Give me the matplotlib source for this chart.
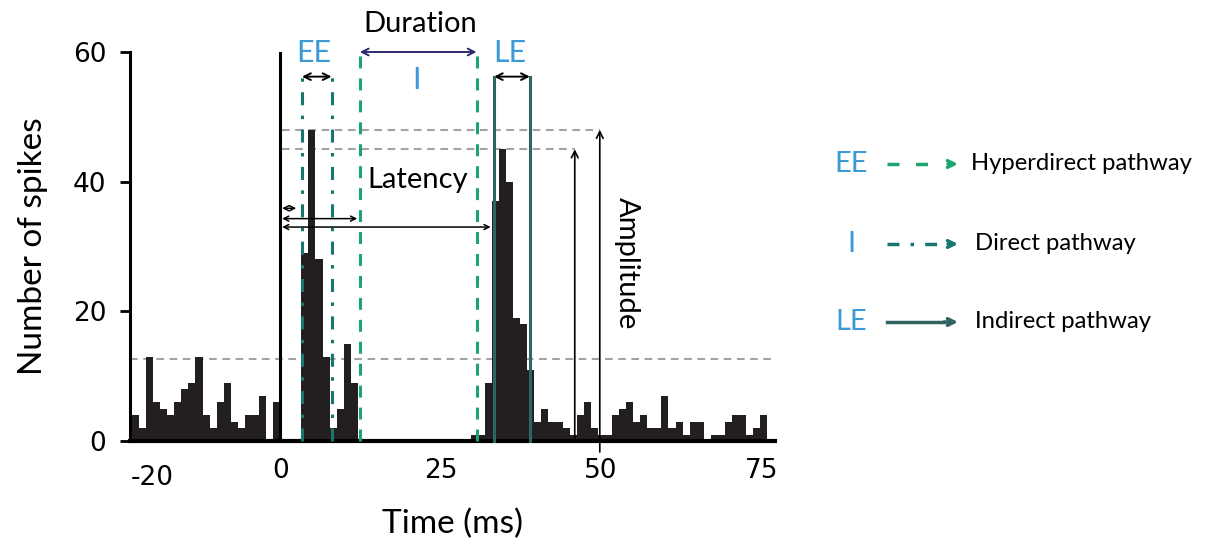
import numpy as np
import matplotlib
matplotlib.use('Agg')
import matplotlib.pyplot as plt

plt.rcParams['lines.scale_dashes'] = False
plt.rcParams['axes.unicode_minus'] = False
TXT = ['Lato', 'DejaVu Sans']

# peri-stimulus histogram, counts per 1.1 ms bin
bin_start = -23.1
bin_width = 1.1
pre_counts = [4, 2, 13, 6, 5, 4, 6, 8, 9, 13, 4, 2, 6, 9, 3, 2, 4, 4, 7, 0, 6]
post_counts = ([0, 0, 0, 29, 48, 28, 13, 2, 5, 15, 9] + [0] * 16 +
               [1, 1, 9, 37, 45, 40, 19, 18, 11, 3, 5, 3, 3, 2, 1, 4, 6, 2, 1, 1,
                4, 5, 6, 3, 4, 2, 2, 7, 2, 3, 1, 3, 3, 0, 1, 1, 3, 4, 4, 1, 2, 4])
counts = pre_counts + post_counts
edges = bin_start + bin_width * np.arange(len(counts))

# markers (ms)
ee_bounds = [3.4, 8.0]
dur_bounds = [12.4, 30.6]
le_bounds = [33.3, 38.9]
latency_ends = [2.5, 12.0, 32.8]
latency_y = [35.9, 34.3, 33.0]
peak_levels = [48, 45]
amp_x = [49.8, 45.9]
threshold = 12.7

xticks = [-20, 0, 25, 50, 75]
yticks = [0, 20, 40, 60]

BLUE = '#3d9ad8'
GREEN = '#1aa56f'
TEAL = '#17776f'
SLATE = '#2f6461'
NAVY = '#2d2b6c'
GRAY = '#a3a3a3'
BAR = '#231f20'

fig = plt.figure(figsize=(12.06, 5.39), dpi=100)
ax = fig.add_axes([130 / 1206, 98 / 539, 645 / 1206, 389 / 539])

ax.bar(edges, counts, width=bin_width, align='edge', color=BAR, linewidth=0, zorder=2)
ax.axvline(0, color='black', lw=2.2, zorder=3)

# grey reference lines
ax.plot([-23.4, 77.1], [threshold] * 2, color=GRAY, lw=1.5, ls=(0, (5.5, 4)), zorder=1)
ax.plot([0.3, amp_x[0]], [peak_levels[0]] * 2, color=GRAY, lw=1.5, ls=(0, (5.5, 4)), zorder=1)
ax.plot([0.3, amp_x[1]], [peak_levels[1]] * 2, color=GRAY, lw=1.5, ls=(0, (5.5, 4)), zorder=1)

# window boundaries
for x in ee_bounds:
    ax.plot([x, x], [0, 56.2], color=TEAL, lw=2.2, ls=(0, (9.4, 7.5, 2.5, 7.5)), zorder=4, clip_on=False)
for x in dur_bounds:
    ax.plot([x, x], [0, 60], color=GREEN, lw=2.2, ls=(0, (8.6, 7.2)), zorder=4, clip_on=False)
for x in le_bounds:
    ax.plot([x, x], [0, 56.2], color=SLATE, lw=2.2, zorder=4, clip_on=False)

arr = dict(arrowstyle='<->', color='black', lw=1.4, mutation_scale=12, shrinkA=0, shrinkB=0)
ax.annotate('', xy=(ee_bounds[1], 56.2), xytext=(ee_bounds[0], 56.2), arrowprops=arr, annotation_clip=False)
ax.annotate('', xy=(le_bounds[1], 56.2), xytext=(le_bounds[0], 56.2), arrowprops=arr, annotation_clip=False)
ax.annotate('', xy=(dur_bounds[1], 60), xytext=(dur_bounds[0], 60),
            arrowprops=dict(arr, color=NAVY), annotation_clip=False)

for xe, ye in zip(latency_ends, latency_y):
    ax.annotate('', xy=(xe, ye), xytext=(0.3, ye),
                arrowprops=dict(arr, lw=1.1, mutation_scale=9), zorder=5)

# amplitude arrows
ax.annotate('', xy=(amp_x[0], peak_levels[0]), xytext=(amp_x[0], -1.7),
            arrowprops=dict(arrowstyle='->', color='black', lw=1.2, mutation_scale=12, shrinkA=0, shrinkB=0),
            annotation_clip=False)
ax.annotate('', xy=(amp_x[1], peak_levels[1]), xytext=(amp_x[1], 0),
            arrowprops=dict(arrowstyle='->', color='black', lw=1.2, mutation_scale=12, shrinkA=0, shrinkB=0))

# labels inside the plot
ax.text(5.3, 59.9, 'EE', color=BLUE, fontsize=22, family=TXT, ha='center', va='center', clip_on=False)
ax.text(35.8, 59.9, 'LE', color=BLUE, fontsize=22, family=TXT, ha='center', va='center', clip_on=False)
ax.text(21.3, 55.7, 'I', color=BLUE, fontsize=22, family=TXT, ha='center', va='center')
ax.text(21.8, 64.3, 'Duration', fontsize=21, family=TXT, ha='center', va='center', clip_on=False)
ax.text(21.5, 40.3, 'Latency', fontsize=21, family=TXT, ha='center', va='center')
ax.text(54.0, 27.5, 'Amplitude', fontsize=21, family=TXT, ha='center', va='center', rotation=-90)

ax.set_xlim(-23.4, 77.1)
ax.set_ylim(0, 60)
ax.set_xticks(xticks)
ax.set_yticks(yticks)
ax.tick_params(axis='x', length=0, pad=12, labelsize=19)
ax.tick_params(axis='y', length=7, width=2, pad=10, labelsize=19)
ax.xaxis.get_major_ticks()[0].set_pad(17)
for s in ['top', 'right']:
    ax.spines[s].set_visible(False)
ax.spines['left'].set_linewidth(2.2)
ax.spines['bottom'].set_linewidth(3)
ax.set_xlabel('Time (ms)', fontsize=24, family=TXT, labelpad=13)
ax.set_ylabel('Number of spikes', fontsize=24, family=TXT, labelpad=18)

# legend drawn on a full-figure overlay, pixel units
ov = fig.add_axes([0, 0, 1, 1])
ov.set_xlim(0, 1206)
ov.set_ylim(539, 0)
ov.axis('off')
rows = [('EE', 'Hyperdirect pathway', GREEN, (0, (8.6, 12)), 164),
        ('I', 'Direct pathway', TEAL, (0, (8.6, 8, 2.5, 8)), 244),
        ('LE', 'Indirect pathway', SLATE, '-', 322)]
for key, name, col, style, y in rows:
    ov.text(851, y, key, color=BLUE, fontsize=21, family=TXT, ha='center', va='center')
    ov.plot([887, 944], [y, y], color=col, lw=2.5, ls=style)
    ov.annotate('', xy=(958, y), xytext=(944 if style == '-' else 948, y),
                arrowprops=dict(arrowstyle='->', color=col, lw=2.5, mutation_scale=12, shrinkA=0, shrinkB=0))
    ov.text(971 if key == 'EE' else 975, y, name, fontsize=17.2, family=TXT, ha='left', va='center')

fig.savefig('out.png', dpi=100)
